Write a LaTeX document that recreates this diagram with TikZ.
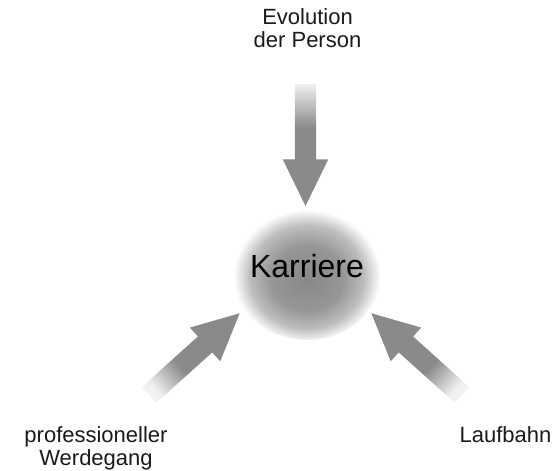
\documentclass[tikz,border=0pt]{standalone}
\usepackage{fontspec}
\setmainfont{Liberation Sans}
\usepackage{xcolor}
\usepackage{tikz}
\usetikzlibrary{positioning,shapes.geometric,shapes.arrows}
\definecolor{mInk}{HTML}{1A1A1A}
\definecolor{mArrowGray}{HTML}{8A8A8A}
\definecolor{mGlowGray}{HTML}{888888}
\pgfdeclarehorizontalshading{arrowfade}{100bp}{color(0bp)=(white); color(25bp)=(white!94!black); color(43bp)=(mArrowGray); color(100bp)=(mArrowGray)}
\pgfdeclareradialshading{karriereglow}{\pgfpoint{0bp}{-3bp}}{color(0bp)=(mGlowGray); color(12bp)=(mGlowGray!88!white); color(19bp)=(mGlowGray!55!white); color(24.5bp)=(white); color(50bp)=(white)}

\begin{document}
\begin{tikzpicture}[x=1pt, y=1pt, font=\fontsize{22}{23}\selectfont, text=mInk,
  flow/.style={single arrow, draw=none, shade, shading=arrowfade, shading angle=#1, rotate=#1, minimum height=122pt, minimum width=45pt, inner sep=10.5pt, single arrow head extend=12pt, single arrow tip angle=52, anchor=tip},
  lbl/.style={inner sep=0pt, align=center, anchor=north}]
\useasboundingbox (0,0) rectangle (560,471);
\node[ellipse, shade, shading=karriereglow, minimum width=150pt, minimum height=136pt, inner xsep=-20pt, inner ysep=0pt, text depth=12pt, font=\fontsize{32}{36}\selectfont, text=black] (karriere) at (307,199) {Karriere};
\node[flow=-90] (fromtop) at (305.5,264.5) {};
\node[flow=42] (fromleft) at (240,158) {};
\node[flow=138] (fromright) at (371,158) {};
\node[lbl] (evolution) at (307.5,462.5) {Evolution\\der Person};
\node[lbl] (werdegang) at (96,45) {professioneller\\Werdegang};
\node[lbl] (laufbahn) at (505.5,45) {Laufbahn};
\end{tikzpicture}
\end{document}
